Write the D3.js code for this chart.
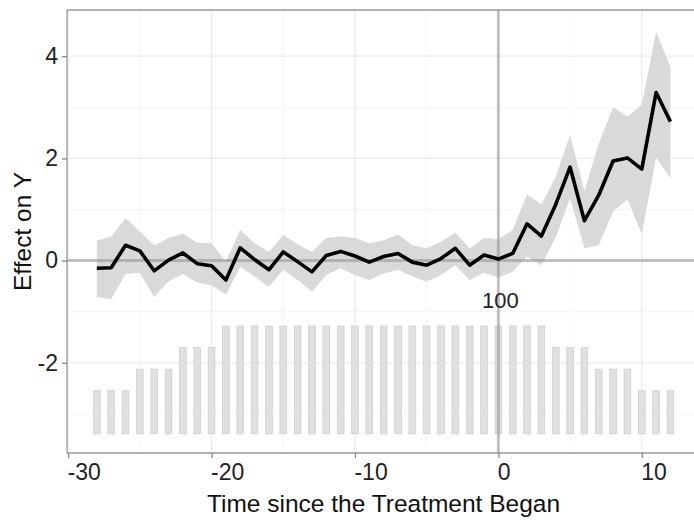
<!DOCTYPE html>
<html lang="en">
<head>
<meta charset="UTF-8">
<title>Event study</title>
<script src="https://d3js.org/d3.v7.min.js"></script>
<style>
  body { margin: 0; background: #fff; }
  svg { display: block; font-family: "Liberation Sans", Arial, sans-serif; }
</style>
</head>
<body>
<div id="chart"></div>
<script>
// event time, estimates and 95% band
const period = d3.range(-28, 13);
const estimate = [-0.15, -0.14, 0.30, 0.19, -0.20, 0.01, 0.15, -0.06, -0.10, -0.38,
  0.25, 0.02, -0.18, 0.17, -0.02, -0.22, 0.10, 0.18, 0.09, -0.03,
  0.08, 0.14, -0.03, -0.09, 0.04, 0.24, -0.09, 0.11, 0.03, 0.14,
  0.72, 0.48, 1.10, 1.83, 0.78, 1.28, 1.95, 2.01, 1.79, 3.29, 2.72];
const upper = [0.39, 0.47, 0.83, 0.57, 0.30, 0.44, 0.53, 0.35, 0.34, -0.02,
  0.60, 0.34, 0.17, 0.50, 0.32, 0.17, 0.44, 0.47, 0.44, 0.34,
  0.40, 0.51, 0.30, 0.24, 0.37, 0.55, 0.24, 0.44, 0.42, 0.60,
  1.30, 1.10, 1.64, 2.46, 1.36, 2.29, 3.00, 2.82, 3.05, 4.48, 3.79];
const lower = [-0.71, -0.75, -0.26, -0.24, -0.71, -0.41, -0.26, -0.43, -0.48, -0.67,
  -0.12, -0.31, -0.51, -0.18, -0.38, -0.61, -0.28, -0.15, -0.28, -0.38,
  -0.25, -0.18, -0.31, -0.41, -0.28, -0.09, -0.38, -0.24, -0.33, -0.22,
  0.08, -0.09, 0.45, 1.22, 0.24, 0.30, 0.96, 1.20, 0.52, 2.02, 1.61];
// number of treated units observed at each period
const units = [40, 40, 40, 60, 60, 60, 80, 80, 80,
  100, 100, 100, 100, 100, 100, 100, 100, 100, 100, 100, 100, 100, 100, 100, 100, 100, 100, 100, 100, 100, 100, 100,
  80, 80, 80, 60, 60, 60, 40, 40, 40];

const xTicks = [-30, -20, -10, 0, 10];
const xMinor = [-25, -15, -5, 5];
const yTicks = [-2, 0, 2, 4];
const yMinor = [-3, -1, 1, 3];

const W = 694, H = 522;
const svg = d3.select("#chart").append("svg").attr("width", W).attr("height", H);

const pLeft = 67, pTop = 10, pBottom = 453;
const x = d3.scaleLinear().domain([-30.08, 14.2]).range([pLeft, 702]);
const y = d3.scaleLinear().domain([-3.765, 4.904]).range([pBottom, pTop]);
// bar heights: 0..100 units drawn between y=-3.39 and y=-1.28
const yUnits = d3.scaleLinear().domain([0, 100]).range([y(-3.39), y(-1.28)]);

const data = period.map((t, i) => ({ t, est: estimate[i], hi: upper[i], lo: lower[i], n: units[i] }));

// grid
const grid = svg.append("g");
grid.selectAll(".ym").data(yMinor).enter().append("line")
  .attr("x1", pLeft).attr("x2", W).attr("y1", d => y(d)).attr("y2", d => y(d))
  .attr("stroke", "#f2f2f2").attr("stroke-width", 0.8);
grid.selectAll(".xm").data(xMinor).enter().append("line")
  .attr("y1", pTop).attr("y2", pBottom).attr("x1", d => x(d)).attr("x2", d => x(d))
  .attr("stroke", "#f2f2f2").attr("stroke-width", 0.8);
grid.selectAll(".yM").data(yTicks).enter().append("line")
  .attr("x1", pLeft).attr("x2", W).attr("y1", d => y(d)).attr("y2", d => y(d))
  .attr("stroke", "#ebebeb").attr("stroke-width", 1.3);
grid.selectAll(".xM").data(xTicks).enter().append("line")
  .attr("y1", pTop).attr("y2", pBottom).attr("x1", d => x(d)).attr("x2", d => x(d))
  .attr("stroke", "#ebebeb").attr("stroke-width", 1.3);

// ribbon
svg.append("path").datum(data)
  .attr("d", d3.area().x(d => x(d.t)).y0(d => y(d.lo)).y1(d => y(d.hi)))
  .attr("fill", "#d9d9d9");

// bars
const bw = x(0.235) - x(0);
svg.selectAll("rect.bar").data(data).enter().append("rect")
  .attr("class", "bar")
  .attr("x", d => x(d.t) - bw)
  .attr("width", bw * 2)
  .attr("y", d => yUnits(d.n))
  .attr("height", d => yUnits(0) - yUnits(d.n))
  .attr("fill", "#e0e0e0")
  .attr("stroke", "#cccccc")
  .attr("stroke-width", 0.7);

// reference lines
svg.append("line").attr("x1", pLeft).attr("x2", W).attr("y1", y(0)).attr("y2", y(0))
  .attr("stroke", "#808080").attr("stroke-opacity", 0.45).attr("stroke-width", 3);
svg.append("line").attr("x1", x(0)).attr("x2", x(0)).attr("y1", pTop).attr("y2", pBottom)
  .attr("stroke", "#808080").attr("stroke-opacity", 0.45).attr("stroke-width", 3);

// estimate line
svg.append("path").datum(data)
  .attr("d", d3.line().x(d => x(d.t)).y(d => y(d.est)))
  .attr("fill", "none").attr("stroke", "#000").attr("stroke-width", 3.6)
  .attr("stroke-linejoin", "round");

// label for the max count
svg.append("text").attr("x", x(0) + 2).attr("y", y(-0.93))
  .attr("text-anchor", "middle").attr("font-size", 22).attr("fill", "#222")
  .text(d3.max(units));

// panel border
svg.append("path")
  .attr("d", `M${W + 5},${pTop}H${pLeft}V${pBottom}H${W + 5}`)
  .attr("fill", "none").attr("stroke", "#999").attr("stroke-width", 1.3);

// axes (plain hyphen minus, as in the original)
const fmt = d => String(d);
const xAxis = svg.append("g").attr("transform", `translate(0,${pBottom})`)
  .call(d3.axisBottom(x).tickValues(xTicks).tickSize(5).tickSizeOuter(0).tickFormat(fmt));
xAxis.select(".domain").remove();
xAxis.selectAll(".tick line").attr("stroke", "#888").attr("stroke-width", 1.3);
xAxis.selectAll(".tick text").attr("text-anchor", "start").attr("dx", -1).attr("dy", "0.76em")
  .attr("y", 10).attr("font-size", 23).attr("fill", "#222").attr("font-family", null);

const yAxis = svg.append("g").attr("transform", `translate(${pLeft},0)`)
  .call(d3.axisLeft(y).tickValues(yTicks).tickSize(5).tickSizeOuter(0).tickFormat(fmt));
yAxis.select(".domain").remove();
yAxis.selectAll(".tick line").attr("stroke", "#888").attr("stroke-width", 1.3);
yAxis.selectAll(".tick text").attr("x", -9).attr("font-size", 23).attr("fill", "#222").attr("font-family", null);

// axis titles
svg.append("text").attr("x", (pLeft + 700) / 2).attr("y", 512)
  .attr("text-anchor", "middle").attr("font-size", 24.5).attr("fill", "#111")
  .text("Time since the Treatment Began");
svg.append("text").attr("transform", `translate(31,${(pTop + pBottom) / 2}) rotate(-90)`)
  .attr("text-anchor", "middle").attr("font-size", 24.5).attr("fill", "#111")
  .text("Effect on Y");
</script>
</body>
</html>
